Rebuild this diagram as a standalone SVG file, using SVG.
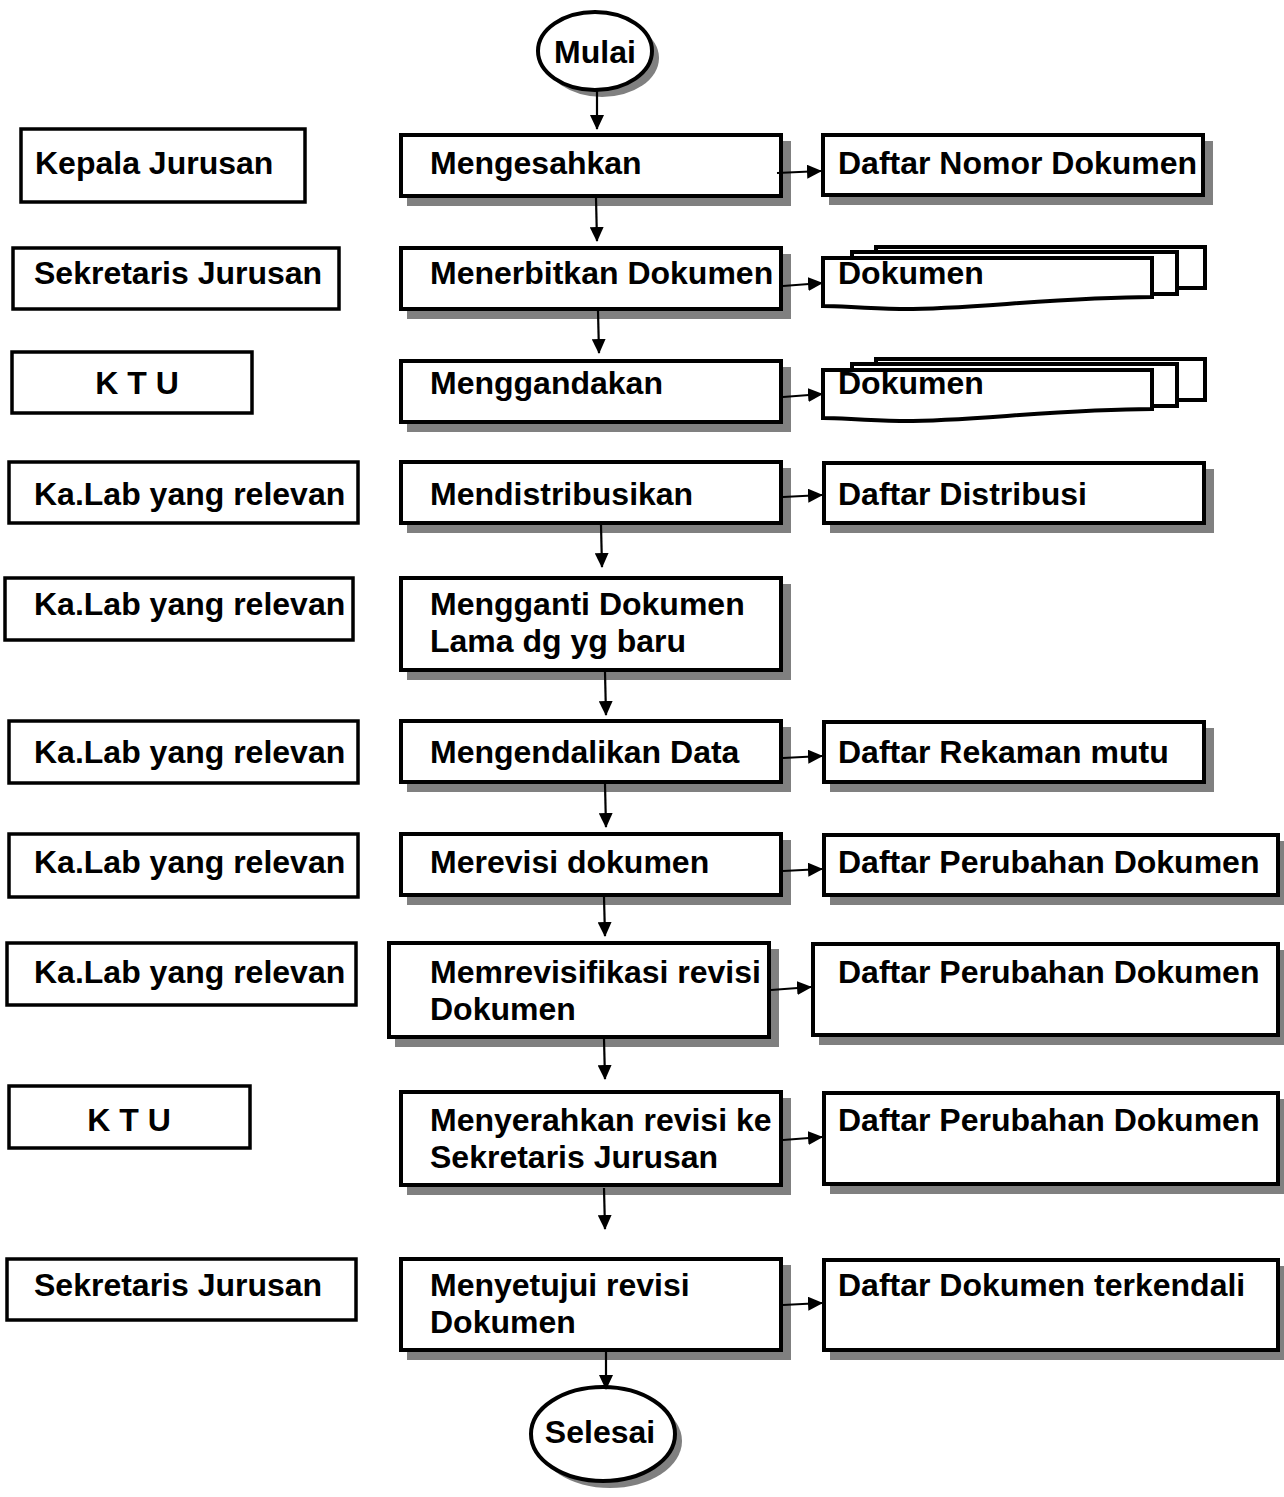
<svg xmlns="http://www.w3.org/2000/svg" width="1284" height="1497" viewBox="0 0 1284 1497">
<style>
.box{fill:#fff;stroke:#000;stroke-width:4}
.lbox{fill:#fff;stroke:#000;stroke-width:3.5}
.sh{fill:#808080}
.t{font-family:"Liberation Sans",Arial,sans-serif;font-weight:bold;font-size:32px;fill:#000}
.c{stroke:#000;stroke-width:2.2;fill:none;marker-end:url(#ah)}
</style>
<defs>
<marker id="ah" viewBox="0 0 15 14" refX="14" refY="7" markerWidth="15" markerHeight="14" markerUnits="userSpaceOnUse" orient="auto">
<path d="M0,0 L15,7 L0,14 z" fill="#000"/>
</marker>
<path id="docfront" d="M823,258 H1152 V297 C1060,297 960,310 900,309 C860,308 840,306 823,306 Z"/>
</defs>
<rect width="1284" height="1497" fill="#fff"/>

<!-- Left column -->
<g id="L1"><rect class="lbox" x="21" y="129" width="284" height="73"/><text class="t" x="35" y="174">Kepala Jurusan</text></g>
<g id="L2"><rect class="lbox" x="13" y="248" width="326" height="61"/><text class="t" x="34" y="284">Sekretaris Jurusan</text></g>
<g id="L3"><rect class="lbox" x="12" y="352" width="240" height="61"/><text class="t" x="137" y="394" text-anchor="middle">K T U</text></g>
<g id="L4"><rect class="lbox" x="9" y="462" width="349" height="61"/><text class="t" x="34" y="505">Ka.Lab yang relevan</text></g>
<g id="L5"><rect class="lbox" x="5" y="578" width="348" height="62"/><text class="t" x="34" y="615">Ka.Lab yang relevan</text></g>
<g id="L6"><rect class="lbox" x="9" y="721" width="349" height="62"/><text class="t" x="34" y="763">Ka.Lab yang relevan</text></g>
<g id="L7"><rect class="lbox" x="9" y="834" width="349" height="63"/><text class="t" x="34" y="873">Ka.Lab yang relevan</text></g>
<g id="L8"><rect class="lbox" x="7" y="943" width="349" height="62"/><text class="t" x="34" y="983">Ka.Lab yang relevan</text></g>
<g id="L9"><rect class="lbox" x="9" y="1086" width="241" height="62"/><text class="t" x="129" y="1131" text-anchor="middle">K T U</text></g>
<g id="L10"><rect class="lbox" x="7" y="1259" width="349" height="61"/><text class="t" x="34" y="1296">Sekretaris Jurusan</text></g>

<!-- Start / End -->
<g id="start"><ellipse class="sh" cx="602" cy="58" rx="57" ry="39"/><ellipse class="box" cx="595" cy="51" rx="57" ry="39"/><text class="t" x="595" y="63" text-anchor="middle">Mulai</text></g>
<g id="end"><ellipse class="sh" cx="610" cy="1441" rx="72" ry="47"/><ellipse class="box" cx="603" cy="1434" rx="72" ry="47"/><text class="t" x="600" y="1443" text-anchor="middle">Selesai</text></g>

<!-- Middle column -->
<g id="M1"><rect class="sh" x="407" y="141" width="384" height="65"/><rect class="box" x="401" y="135" width="380" height="61"/><text class="t" x="430" y="174">Mengesahkan</text></g>
<g id="M2"><rect class="sh" x="407" y="254" width="384" height="65"/><rect class="box" x="401" y="248" width="380" height="61"/><text class="t" x="430" y="284">Menerbitkan Dokumen</text></g>
<g id="M3"><rect class="sh" x="407" y="367" width="384" height="65"/><rect class="box" x="401" y="361" width="380" height="61"/><text class="t" x="430" y="394">Menggandakan</text></g>
<g id="M4"><rect class="sh" x="407" y="468" width="384" height="65"/><rect class="box" x="401" y="462" width="380" height="61"/><text class="t" x="430" y="505">Mendistribusikan</text></g>
<g id="M5"><rect class="sh" x="407" y="584" width="384" height="96"/><rect class="box" x="401" y="578" width="380" height="92"/><text class="t" x="430" y="615">Mengganti Dokumen</text><text class="t" x="430" y="652">Lama dg yg baru</text></g>
<g id="M6"><rect class="sh" x="407" y="727" width="384" height="65"/><rect class="box" x="401" y="721" width="380" height="61"/><text class="t" x="430" y="763">Mengendalikan Data</text></g>
<g id="M7"><rect class="sh" x="407" y="840" width="384" height="65"/><rect class="box" x="401" y="834" width="380" height="61"/><text class="t" x="430" y="873">Merevisi dokumen</text></g>
<g id="M8"><rect class="sh" x="395" y="949" width="384" height="98"/><rect class="box" x="389" y="943" width="380" height="94"/><text class="t" x="430" y="983">Memrevisifikasi revisi</text><text class="t" x="430" y="1020">Dokumen</text></g>
<g id="M9"><rect class="sh" x="407" y="1098" width="384" height="97"/><rect class="box" x="401" y="1092" width="380" height="93"/><text class="t" x="430" y="1131">Menyerahkan revisi ke</text><text class="t" x="430" y="1168">Sekretaris Jurusan</text></g>
<g id="M10"><rect class="sh" x="407" y="1265" width="384" height="95"/><rect class="box" x="401" y="1259" width="380" height="91"/><text class="t" x="430" y="1296">Menyetujui revisi</text><text class="t" x="430" y="1333">Dokumen</text></g>

<!-- Right column -->
<g id="R1"><rect class="sh" x="829" y="141" width="384" height="64"/><rect class="box" x="823" y="135" width="380" height="60"/><text class="t" x="838" y="174">Daftar Nomor Dokumen</text></g>
<g id="R2"><rect class="box" x="876" y="247" width="329" height="41"/><rect class="box" x="852" y="252" width="325" height="42"/><use href="#docfront" class="box"/><text class="t" x="838" y="284">Dokumen</text></g>
<g id="R3" transform="translate(0,112)"><rect class="box" x="876" y="247" width="329" height="41"/><rect class="box" x="852" y="252" width="325" height="42"/><use href="#docfront" class="box"/><text class="t" x="838" y="282">Dokumen</text></g>
<g id="R4"><rect class="sh" x="830" y="469" width="384" height="64"/><rect class="box" x="824" y="463" width="380" height="60"/><text class="t" x="838" y="505">Daftar Distribusi</text></g>
<g id="R6"><rect class="sh" x="830" y="728" width="384" height="64"/><rect class="box" x="824" y="722" width="380" height="60"/><text class="t" x="838" y="763">Daftar Rekaman mutu</text></g>
<g id="R7"><rect class="sh" x="830" y="841" width="458" height="64"/><rect class="box" x="824" y="835" width="454" height="60"/><text class="t" x="838" y="873">Daftar Perubahan Dokumen</text></g>
<g id="R8"><rect class="sh" x="819" y="950" width="469" height="95"/><rect class="box" x="813" y="944" width="465" height="91"/><text class="t" x="838" y="983">Daftar Perubahan Dokumen</text></g>
<g id="R9"><rect class="sh" x="830" y="1099" width="458" height="95"/><rect class="box" x="824" y="1093" width="454" height="91"/><text class="t" x="838" y="1131">Daftar Perubahan Dokumen</text></g>
<g id="R10"><rect class="sh" x="830" y="1266" width="458" height="94"/><rect class="box" x="824" y="1260" width="454" height="90"/><text class="t" x="838" y="1296">Daftar Dokumen terkendali</text></g>

<!-- Connectors -->
<g id="connectors">
<line class="c" x1="597" y1="90" x2="597" y2="129"/>
<line class="c" x1="596" y1="198" x2="597" y2="241"/>
<line class="c" x1="598" y1="311" x2="599" y2="353"/>
<line class="c" x1="601" y1="525" x2="602" y2="567"/>
<line class="c" x1="605" y1="672" x2="606" y2="715"/>
<line class="c" x1="605" y1="784" x2="606" y2="827"/>
<line class="c" x1="604" y1="897" x2="605" y2="936"/>
<line class="c" x1="604" y1="1039" x2="605" y2="1079"/>
<line class="c" x1="604" y1="1188" x2="605" y2="1229"/>
<line class="c" x1="606" y1="1352" x2="606" y2="1389"/>
<line class="c" x1="777" y1="173" x2="821" y2="171"/>
<line class="c" x1="783" y1="286" x2="822" y2="283"/>
<line class="c" x1="783" y1="397" x2="822" y2="394"/>
<line class="c" x1="783" y1="497" x2="822" y2="495"/>
<line class="c" x1="783" y1="758" x2="822" y2="756"/>
<line class="c" x1="783" y1="871" x2="822" y2="869"/>
<line class="c" x1="771" y1="990" x2="811" y2="987"/>
<line class="c" x1="783" y1="1140" x2="822" y2="1137"/>
<line class="c" x1="783" y1="1305" x2="822" y2="1303"/>
</g>
</svg>
